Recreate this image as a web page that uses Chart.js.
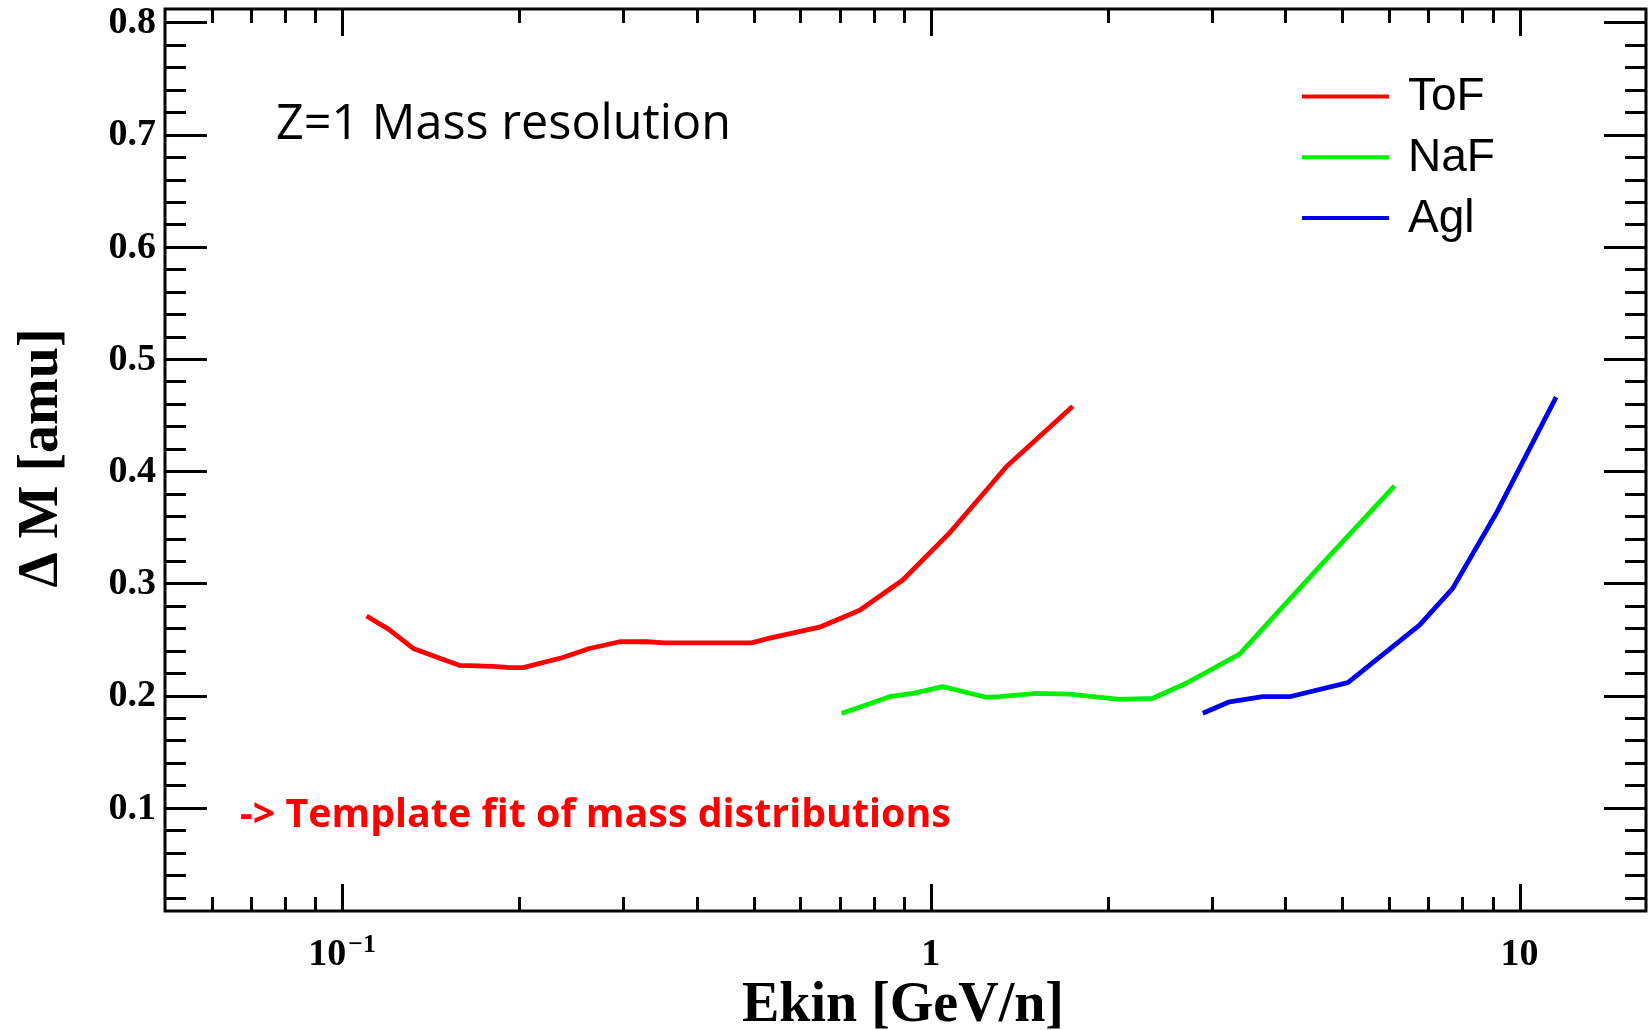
<!DOCTYPE html>
<html>
<head>
<meta charset="utf-8">
<script src="https://cdn.jsdelivr.net/npm/chart.js@4/dist/chart.umd.min.js"></script>
<style>
  html, body { margin: 0; padding: 0; background: #ffffff; }
  #wrap { width: 1648px; height: 1030px; position: relative; }
</style>
</head>
<body>
<div id="wrap"><canvas id="c"></canvas></div>
<script>
// Z=1 mass resolution versus kinetic energy per nucleon, one curve per velocity detector

// ToF
const tofEkin = [0.110, 0.120, 0.132, 0.158, 0.180, 0.193, 0.203, 0.237, 0.263, 0.296, 0.329, 0.353, 0.496, 0.530, 0.647, 0.757, 0.896, 1.076, 1.242, 1.343, 1.742];
const tofDM   = [0.271, 0.259, 0.242, 0.227, 0.226, 0.225, 0.225, 0.234, 0.242, 0.248, 0.248, 0.247, 0.247, 0.251, 0.261, 0.276, 0.303, 0.345, 0.383, 0.404, 0.458];

// NaF
const nafEkin = [0.705, 0.851, 0.932, 1.048, 1.242, 1.308, 1.511, 1.720, 2.092, 2.383, 2.715, 3.345, 4.574, 6.134];
const nafDM   = [0.184, 0.199, 0.202, 0.208, 0.1985, 0.199, 0.202, 0.2014, 0.1967, 0.1976, 0.211, 0.237, 0.315, 0.387];

// Agl
const aglEkin = [2.897, 3.217, 3.664, 4.068, 5.110, 6.762, 7.700, 9.130, 11.54];
const aglDM   = [0.1842, 0.1945, 0.199, 0.199, 0.2115, 0.2629, 0.2956, 0.3625, 0.466];

const seriesNames  = ['ToF', 'NaF', 'Agl'];
const seriesColors = ['#ff0000', '#00f000', '#0000f0'];

// axis ranges and tick labels
const xRange = [0.05, 16.4];
const yRange = [0.008, 0.812];
const xMajorTicks = [0.1, 1, 10];
const xTickMantissa = ['10', '1', '10'];
const xTickExponent = ['\u22121', '', ''];
const yMajorTicks = [0.1, 0.2, 0.3, 0.4, 0.5, 0.6, 0.7, 0.8];
const yTickLabels = ['0.1', '0.2', '0.3', '0.4', '0.5', '0.6', '0.7', '0.8'];

const xTitle = 'Ekin [GeV/n]';
const yTitle = '\u0394 M [amu]';
const headline = 'Z=1 Mass resolution';
const note = '-> Template fit of mass distributions';

// minor ticks: 2..9 times each decade, 0.02 steps on y
const xMinorTicks = [];
for (let e = -2; e <= 1; e++) {
  for (let m = 2; m <= 9; m++) {
    const v = m * Math.pow(10, e);
    if (v > xRange[0] && v < xRange[1]) xMinorTicks.push(v);
  }
}
const yMinorTicks = [];
for (let k = 1; k <= 40; k++) {
  const v = k * 0.02;
  if (v > yRange[0] && v < yRange[1] + 1e-9) yMinorTicks.push(+v.toFixed(2));
}

const toPoints = (xs, ys) => xs.map((x, i) => ({ x: x, y: ys[i] }));

const SERIF = '"Liberation Serif", "Times New Roman", serif';
const SANS = '"Liberation Sans", Arial, sans-serif';
const CAL = '"Open Sans", "Noto Sans", sans-serif';

function fitFont(ctx, text, weight, family, width) {
  ctx.font = weight + ' 100px ' + family;
  const w = ctx.measureText(text).width;
  return weight + ' ' + (100 * width / w).toFixed(2) + 'px ' + family;
}

const frameAndText = {
  id: 'frameAndText',
  afterDraw(chart) {
    const ctx = chart.ctx;
    const xs = chart.scales.x, ys = chart.scales.y;
    const a = chart.chartArea;
    ctx.save();
    ctx.strokeStyle = '#000';
    ctx.fillStyle = '#000';
    ctx.lineCap = 'butt';

    // frame
    ctx.lineWidth = 3;
    ctx.strokeRect(a.left, a.top, a.right - a.left, a.bottom - a.top);

    // y ticks, both sides, pointing inward
    const yMajLen = 42, yMinLen = 21, xMajLen = 27, xMinLen = 14;
    ctx.lineWidth = 3;
    ctx.beginPath();
    yMinorTicks.forEach(v => {
      const isMajor = yMajorTicks.some(t => Math.abs(t - v) < 1e-6);
      const len = isMajor ? yMajLen : yMinLen;
      const py = Math.round(ys.getPixelForValue(v)) + 0.5;
      ctx.moveTo(a.left, py); ctx.lineTo(a.left + len, py);
      ctx.moveTo(a.right, py); ctx.lineTo(a.right - len, py);
    });
    // x ticks, bottom and top
    xMinorTicks.forEach(v => {
      const px = Math.round(xs.getPixelForValue(v)) + 0.5;
      ctx.moveTo(px, a.bottom); ctx.lineTo(px, a.bottom - xMinLen);
      ctx.moveTo(px, a.top); ctx.lineTo(px, a.top + xMinLen);
    });
    xMajorTicks.forEach(v => {
      const px = Math.round(xs.getPixelForValue(v)) + 0.5;
      ctx.moveTo(px, a.bottom); ctx.lineTo(px, a.bottom - xMajLen);
      ctx.moveTo(px, a.top); ctx.lineTo(px, a.top + xMajLen);
    });
    ctx.stroke();

    // y tick labels
    ctx.font = 'bold 38px ' + SERIF;
    ctx.textAlign = 'right';
    ctx.textBaseline = 'middle';
    yMajorTicks.forEach((v, i) => {
      ctx.fillText(yTickLabels[i], a.left - 9, ys.getPixelForValue(v) + 1);
    });

    // x tick labels with optional exponent
    ctx.textBaseline = 'alphabetic';
    ctx.textAlign = 'left';
    xMajorTicks.forEach((v, i) => {
      const px = xs.getPixelForValue(v);
      ctx.font = 'bold 38px ' + SERIF;
      const wm = ctx.measureText(xTickMantissa[i]).width;
      ctx.font = 'bold 26px ' + SERIF;
      const we = xTickExponent[i] ? ctx.measureText(xTickExponent[i]).width + 2 : 0;
      const x0 = px - (wm + we) / 2;
      ctx.font = 'bold 38px ' + SERIF;
      ctx.fillText(xTickMantissa[i], x0, 965);
      if (xTickExponent[i]) {
        ctx.font = 'bold 26px ' + SERIF;
        ctx.fillText(xTickExponent[i], x0 + wm + 2, 952);
      }
    });

    // axis titles
    ctx.font = 'bold 56px ' + SERIF;
    ctx.textAlign = 'right';
    ctx.fillText(xTitle, 1064, 1021);
    ctx.save();
    ctx.translate(57, 458);
    ctx.rotate(-Math.PI / 2);
    ctx.textAlign = 'center';
    ctx.fillText(yTitle, 0, 0);
    ctx.restore();

    // headline and note inside the frame
    ctx.textAlign = 'left';
    ctx.font = fitFont(ctx, headline, 'normal', CAL, 455);
    ctx.fillText(headline, 276, 139);
    ctx.fillStyle = '#ff0000';
    ctx.font = fitFont(ctx, note, 'bold', CAL, 711);
    ctx.fillText(note, 240, 827);

    // legend
    ctx.font = '46px ' + SANS;
    chart.data.datasets.forEach((ds, i) => {
      const yLine = 96.5 + i * 60.8;
      ctx.strokeStyle = ds.borderColor;
      ctx.lineWidth = 4;
      ctx.beginPath();
      ctx.moveTo(1302, yLine); ctx.lineTo(1389, yLine);
      ctx.stroke();
      ctx.fillStyle = '#000';
      ctx.fillText(ds.label, 1408, yLine + 13.5);
    });
    ctx.restore();
  }
};

const datasets = [
  toPoints(tofEkin, tofDM),
  toPoints(nafEkin, nafDM),
  toPoints(aglEkin, aglDM)
].map((pts, i) => ({
  label: seriesNames[i],
  data: pts,
  borderColor: seriesColors[i],
  backgroundColor: seriesColors[i],
  borderWidth: 4.8,
  pointRadius: 0,
  tension: 0,
  fill: false,
  borderJoinStyle: 'round',
  borderCapStyle: 'butt'
}));

new Chart(document.getElementById('c'), {
  type: 'line',
  data: { datasets: datasets },
  options: {
    responsive: true,
    maintainAspectRatio: false,
    animation: false,
    events: [],
    layout: { padding: { left: 165, right: 2, top: 9, bottom: 119 } },
    scales: {
      x: { type: 'logarithmic', min: xRange[0], max: xRange[1], display: false },
      y: { type: 'linear', min: yRange[0], max: yRange[1], display: false }
    },
    plugins: {
      legend: { display: false },
      tooltip: { enabled: false }
    }
  },
  plugins: [frameAndText]
});
</script>
</body>
</html>
